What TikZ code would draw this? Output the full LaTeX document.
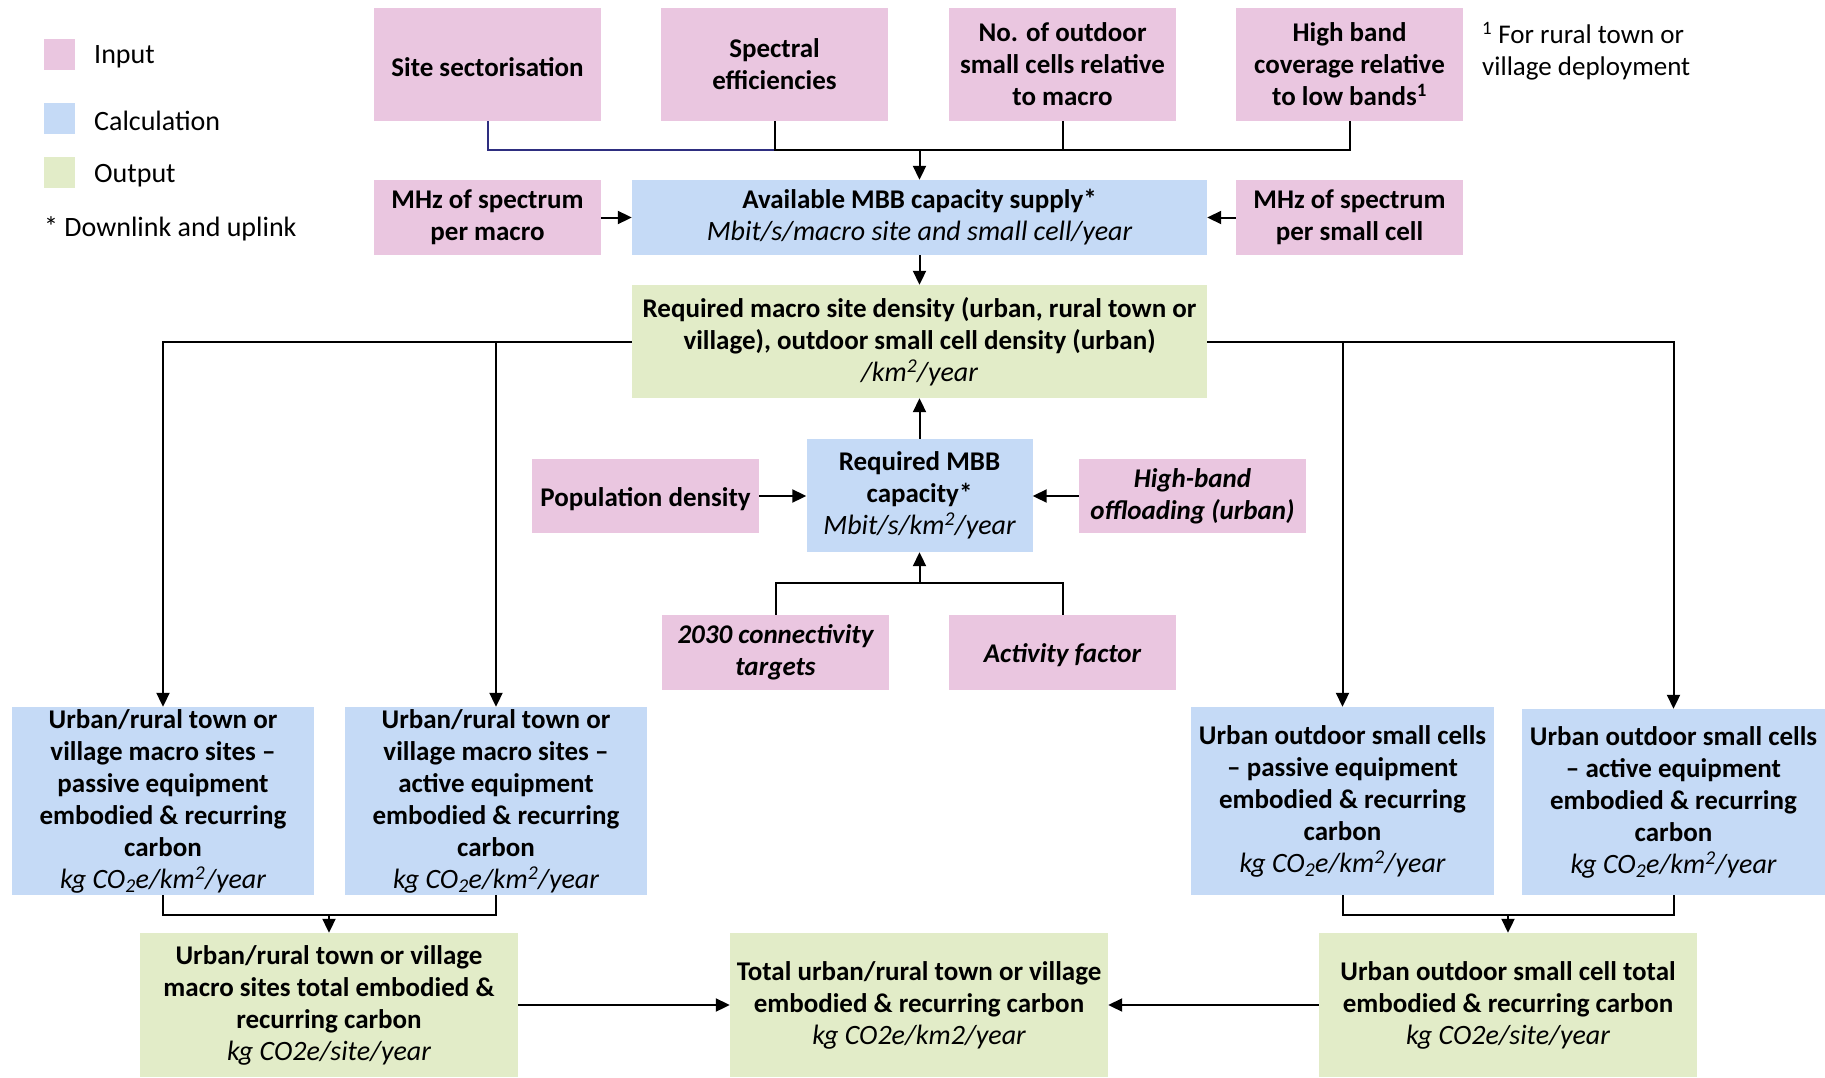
\documentclass[tikz,border=0pt]{standalone}
\usepackage{fontspec}
\setmainfont{Carlito}
\usetikzlibrary{arrows.meta}
\definecolor{inpc}{HTML}{EAC6E0}
\definecolor{calcc}{HTML}{C5DAF6}
\definecolor{outc}{HTML}{E2ECC8}
\definecolor{navyline}{HTML}{2E2E80}
\tikzset{
  box/.style={inner sep=0pt, align=center, font=\fontsize{27}{32}\selectfont\bfseries,
    execute at begin node={\rule{0pt}{25pt}}},
  inbox/.style={box, fill=inpc},
  calcbox/.style={box, fill=calcc},
  outbox/.style={box, fill=outc},
  conn/.style={line width=2pt, draw=black},
  arr/.style={conn, -{Triangle[length=14pt,width=13pt]}},
  legsq/.style={inner sep=0pt, minimum size=31pt},
  legtx/.style={anchor=west, inner sep=0pt, align=left, font=\fontsize{28}{32}\selectfont},
}
\newcommand{\un}[1]{{\fontsize{28}{32}\selectfont\mdseries\itshape #1}}
\begin{document}
\begin{tikzpicture}[x=1pt,y=-1pt]
\useasboundingbox (0,0) rectangle (1825,1078);

% legend
\node[legsq, fill=inpc] (lin) at (59,54.5) {};
\node[legtx] (lint) at (94,57) {Input};
\node[legsq, fill=calcc] (lca) at (59,118.5) {};
\node[legtx] (lcat) at (94,121) {Calculation};
\node[legsq, fill=outc] (lou) at (59,172.5) {};
\node[legtx] (lout) at (94,176) {Output};
\node[legtx] (lstar) at (44,229) {* Downlink and uplink};
\node[legtx, font=\fontsize{27}{32}\selectfont] (fn) at (1482,51) {\textsuperscript{1} For rural town or\\village deployment};

% top inputs
\node[inbox, minimum width=227pt, minimum height=113pt] (ss) at (487.5,64.5) {Site sectorisation};
\node[inbox, minimum width=227pt, minimum height=113pt] (se) at (774.5,64.5) {Spectral\\efficiencies};
\node[inbox, minimum width=227pt, minimum height=113pt] (no) at (1062.5,64.5) {No. of outdoor\\small cells relative\\to macro};
\node[inbox, minimum width=227pt, minimum height=113pt] (hb) at (1349.5,64.5) {High band\\coverage relative\\to low bands\textsuperscript{1}};

\node[inbox, minimum width=227pt, minimum height=75pt] (mm) at (487.5,217.5) {MHz of spectrum\\per macro};
\node[calcbox, minimum width=575pt, minimum height=75pt] (av) at (919.5,217.5) {Available MBB capacity supply*\\\un{Mbit/s/macro site and small cell/year}};
\node[inbox, minimum width=227pt, minimum height=75pt] (ms) at (1349.5,217.5) {MHz of spectrum\\per small cell};

\node[outbox, minimum width=575pt, minimum height=113pt] (rmd) at (919.5,341.5) {Required macro site density (urban, rural town or\\village), outdoor small cell density (urban)\\\un{/km\textsuperscript{2}/year}};

\node[calcbox, minimum width=226pt, minimum height=113pt] (rmbb) at (919.5,495.5) {Required MBB\\capacity*\\\un{Mbit/s/km\textsuperscript{2}/year}};
\node[inbox, minimum width=227pt, minimum height=74pt] (pd) at (645.5,496) {Population density};
\node[inbox, minimum width=227pt, minimum height=74pt] (hbo) at (1192.5,496) {\itshape High-band\\\itshape offloading (urban)};

\node[inbox, minimum width=227pt, minimum height=75pt] (ct) at (775.5,652.5) {\itshape 2030 connectivity\\\itshape targets};
\node[inbox, minimum width=227pt, minimum height=75pt] (af) at (1062.5,652.5) {\itshape Activity factor};

% calculation boxes
\node[calcbox, minimum width=302pt, minimum height=188pt] (b1) at (163,801) {Urban/rural town or\\village macro sites –\\passive equipment\\embodied \& recurring\\carbon\\\un{kg CO\textsubscript{2}e/km\textsuperscript{2}/year}};
\node[calcbox, minimum width=302pt, minimum height=188pt] (b2) at (496,801) {Urban/rural town or\\village macro sites –\\active equipment\\embodied \& recurring\\carbon\\\un{kg CO\textsubscript{2}e/km\textsuperscript{2}/year}};
\node[calcbox, minimum width=303pt, minimum height=188pt] (b3) at (1342.5,801) {Urban outdoor small cells\\– passive equipment\\embodied \& recurring\\carbon\\\un{kg CO\textsubscript{2}e/km\textsuperscript{2}/year}};
\node[calcbox, minimum width=303pt, minimum height=186pt] (b4) at (1673.5,802) {Urban outdoor small cells\\– active equipment\\embodied \& recurring\\carbon\\\un{kg CO\textsubscript{2}e/km\textsuperscript{2}/year}};

% outputs
\node[outbox, minimum width=378pt, minimum height=144pt] (b5) at (329,1005) {Urban/rural town or village\\macro sites total embodied \&\\recurring carbon\\\un{kg CO2e/site/year}};
\node[outbox, minimum width=378pt, minimum height=144pt] (b6) at (919,1005) {Total urban/rural town or village\\embodied \& recurring carbon\\\un{kg CO2e/km2/year}};
\node[outbox, minimum width=378pt, minimum height=144pt] (b7) at (1508,1005) {Urban outdoor small cell total\\embodied \& recurring carbon\\\un{kg CO2e/site/year}};

% connectors top
\coordinate (tb) at (919.5,150);
\draw[conn, draw=navyline] (ss.south) |- (se.south |- tb);
\draw[conn] (se.south) |- (hb.south |- tb) -- (hb.south);
\draw[conn] (no.south) -- (no.south |- tb);
\draw[arr] (tb) -- (av.north);
\draw[arr] (mm.east) -- (av.west);
\draw[arr] (ms.west) -- (av.east);
\draw[arr] (av.south) -- (rmd.north);
\draw[arr] (rmbb.north) -- (rmd.south);
\draw[arr] (pd.east) -- (pd.east -| rmbb.west);
\draw[arr] (hbo.west) -- (hbo.west -| rmbb.east);
\coordinate (mb) at (919.5,583);
\draw[conn] (ct.north) |- (af.north |- mb) -- (af.north);
\draw[arr] (mb) -- (rmbb.south);

% to calc boxes
\draw[arr] (rmd.west) -| (b1.north);
\draw[arr] (b2.north |- rmd.west) -- (b2.north);
\draw[arr] (rmd.east) -| (b4.north);
\draw[arr] (b3.north |- rmd.east) -- (b3.north);

% bottom buses
\coordinate (lb) at (329,915);
\draw[conn] (b1.south) |- (b2.south |- lb) -- (b2.south);
\draw[arr] (lb) -- (b5.north);
\coordinate (rb) at (1508,915);
\draw[conn] (b3.south) |- (b4.south |- rb) -- (b4.south);
\draw[arr] (rb) -- (b7.north);
\draw[arr] (b5.east) -- (b6.west);
\draw[arr] (b7.west) -- (b6.east);
\end{tikzpicture}
\end{document}
